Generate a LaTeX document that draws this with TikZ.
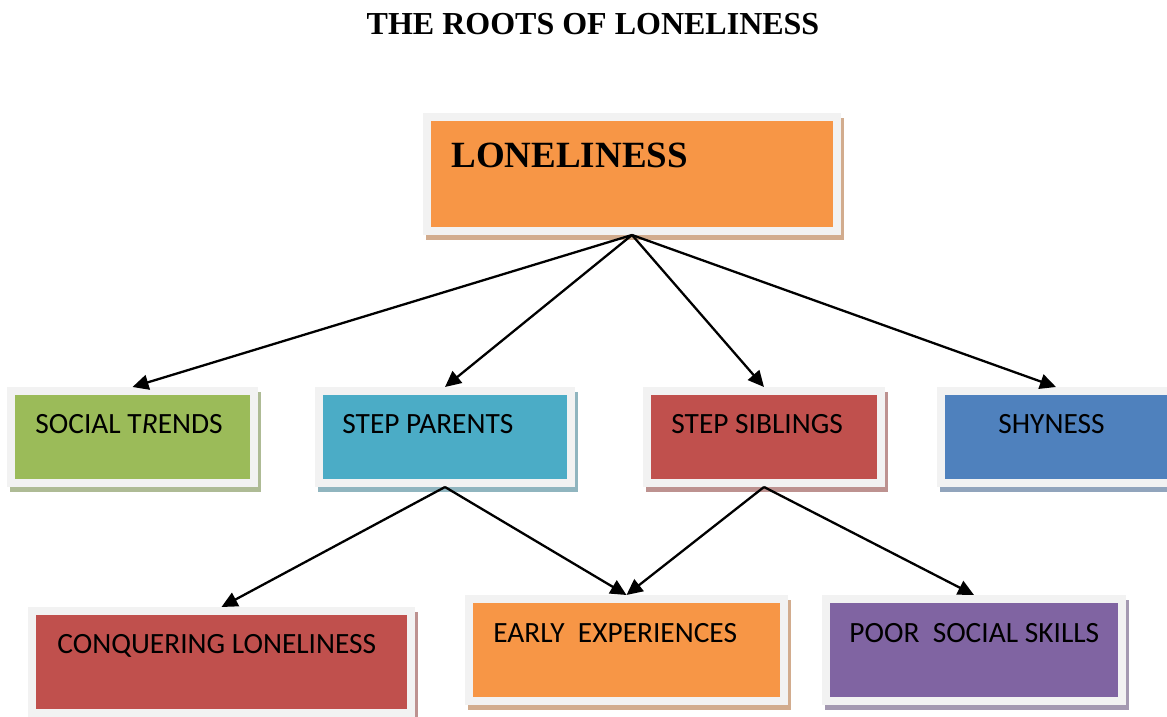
\documentclass[tikz,border=0pt]{standalone}
\usepackage{fontspec}
\setmainfont{Liberation Serif}
\newfontfamily\boxfont{Carlito}
\usetikzlibrary{arrows.meta,shadows}
\definecolor{frameGray}{HTML}{F2F2F2}
\definecolor{rootOrange}{HTML}{F79646}
\definecolor{rootGreen}{HTML}{9BBB59}
\definecolor{rootTeal}{HTML}{4BACC6}
\definecolor{rootRed}{HTML}{C0504D}
\definecolor{rootBlue}{HTML}{4F81BD}
\definecolor{rootPurple}{HTML}{8064A2}
\tikzset{
	root box/.style ={rectangle, fill=frameGray, draw=none, inner sep=0pt, outer sep=0pt,
		path picture={\fill[#1] ([shift={(4pt,4pt)}]path picture bounding box.south west) rectangle ([shift={(-4pt,-4pt)}]path picture bounding box.north east);},
		drop shadow={shadow xshift=1.5pt, shadow yshift=-2.5pt, fill=#1!70!black!55, opacity=1}}, % frame, inner colour and shadow
	box text/.style ={font=\boxfont\fontsize{14.7}{17}\selectfont, anchor=base west, inner sep=0pt},
	my arrow/.style ={-{Triangle[length=8pt,width=7.5pt]}, line width=1.15pt}
}
\begin{document}
\begin{tikzpicture}[x=0.5pt,y=-0.5pt]
            \useasboundingbox (0,0) rectangle (1167,717);
            \clip (0,0) rectangle (1167,717);
            \node[font=\fontsize{16}{19}\selectfont\bfseries] (title) at (593,24) {THE ROOTS OF LONELINESS};
            % boxes
            \node[root box=rootOrange, minimum width=209pt, minimum height=61pt] (lon) at (632,174) {};
            \node[root box=rootGreen, minimum width=125.5pt, minimum height=50pt] (soc) at (132.5,437) {};
            \node[root box=rootTeal, minimum width=130pt, minimum height=50pt] (par) at (445,437) {};
            \node[root box=rootRed, minimum width=121pt, minimum height=50pt] (sib) at (764,437) {};
            \node[root box=rootBlue, minimum width=119pt, minimum height=50pt] (shy) at (1056,437) {};
            \node[root box=rootRed, minimum width=193.5pt, minimum height=55pt] (con) at (221.5,662) {};
            \node[root box=rootOrange, minimum width=161.5pt, minimum height=55pt] (ear) at (626.5,650) {};
            \node[root box=rootPurple, minimum width=152pt, minimum height=55pt] (poo) at (974,650) {};
            % texts
            \node[anchor=base west, inner sep=0pt, font=\fontsize{18.5}{22}\selectfont\bfseries] (lon-t) at (451,168) {LONELINESS};
            \node[box text] (soc-t) at (35,433) {SOCIAL T\textit{R}ENDS};
            \node[box text] (par-t) at (342,433) {STEP PARENTS};
            \node[box text] (sib-t) at (671,433) {STEP SIBLINGS};
            \node[box text] (shy-t) at (998,433) {SHYNESS};
            \node[box text] (con-t) at (57,653) {CONQUERING LONELINESS};
            \node[box text] (ear-t) at (493,642) {EARLY\ \ EXPERIENCES};
            \node[box text] (poo-t) at (849,642) {POOR\ \ SOCIAL SKILLS};
            % arrows
            \draw[my arrow] (lon.south) -- (soc.north);
            \draw[my arrow] (lon.south) -- (par.north);
            \draw[my arrow] (lon.south) -- (sib.north);
            \draw[my arrow] (lon.south) -- (shy.north);
            \draw[my arrow] (par.south) -- (con.north);
            \draw[my arrow] (par.south) -- (ear.north);
            \draw[my arrow] (sib.south) -- (ear.north);
            \draw[my arrow] (sib.south) -- (poo.north);
        \end{tikzpicture}
\end{document}
